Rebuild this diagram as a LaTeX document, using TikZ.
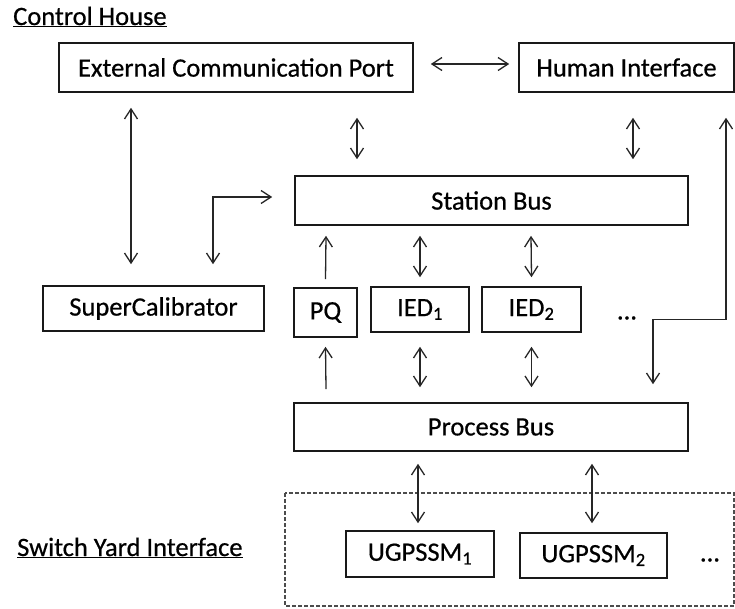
\documentclass[tikz,border=0pt]{standalone}
\usepackage{fontspec}
\setmainfont{Carlito}[FakeBold=0.6]
\usetikzlibrary{arrows.meta}
\begin{document}
\begin{tikzpicture}[x=1pt,y=-1pt,
  box/.style={draw=black!90, line width=1.6pt, inner sep=0pt, font=\fontsize{26.5}{30}\selectfont},
  lbl/.style={inner sep=0pt, font=\fontsize{26.5}{30}\selectfont},
  conn/.style={line width=1.3pt, draw=black!85},
  both/.style={conn, {Straight Barb[length=10pt,width=13pt,line width=1.3pt]}-{Straight Barb[length=10pt,width=13pt,line width=1.3pt]}},
  up/.style={conn, -{Straight Barb[length=10pt,width=13pt,line width=1.3pt]}}]
\useasboundingbox[fill=white] (0,0) rectangle (735,608);

% labels
\node[lbl, anchor=base west] (ctrl) at (13,25) {\underline{Control House}};
\node[lbl, anchor=base west] (syi) at (17,556) {\underline{Switch Yard Interface}};

% dashed switch yard region
\draw[line width=1.1pt, draw=black!70, dash pattern=on 4pt off 2pt] (285,493) rectangle (734,606);

% boxes
\node[box, minimum width=354pt, minimum height=49pt] (ext) at (236,67.5) {External Communication Port};
\node[box, minimum width=215pt, minimum height=49pt] (hmi) at (626.5,67.5) {Human Interface};
\node[box, minimum width=393pt, minimum height=49pt] (sb) at (491.5,200.5) {Station Bus};
\node[box, minimum width=221pt, minimum height=45pt] (sc) at (153.5,308.5) {SuperCalibrator};
\node[box, minimum width=63pt, minimum height=49pt] (pq) at (325.5,312.5) {PQ};
\node[box, minimum width=98pt, minimum height=45pt] (ied1) at (420,309.5) {IED\textsubscript{1}};
\node[box, minimum width=99pt, minimum height=45pt] (ied2) at (531.5,309.5) {IED\textsubscript{2}};
\node[lbl] (dots1) at (627,318) {...};
\node[box, minimum width=394pt, minimum height=48pt] (pb) at (491,427) {Process Bus};
\node[box, minimum width=148pt, minimum height=46pt] (u1) at (420,554) {UGPSSM\textsubscript{1}};
\node[box, minimum width=147pt, minimum height=45pt] (u2) at (593.5,555.5) {UGPSSM\textsubscript{2}};
\node[lbl] (dots2) at (710,560) {...};

% connectors
\draw[both] ([xshift=17pt,yshift=3.5pt]ext.east) -- ([xshift=-9pt,yshift=3.5pt]hmi.west);
\draw[both] ([xshift=-105pt,yshift=-15pt]ext.south) -- ([xshift=-22.5pt,yshift=21pt]sc.north);
\draw[both] ([xshift=59.5pt,yshift=21pt]sc.north) |- ([xshift=-22pt,yshift=3.5pt]sb.west);
\draw[both] ([xshift=121pt,yshift=-25pt]ext.south) -- ([xshift=-134.5pt,yshift=16pt]sb.north);
\draw[both] ([xshift=6.5pt,yshift=-25pt]hmi.south) -- ([xshift=141.5pt,yshift=16pt]sb.north);
\draw[both] ([xshift=99.5pt,yshift=-25pt]hmi.south) -- ++(0,202) -| ([xshift=162pt,yshift=18pt]pb.north);
\draw[up] ([yshift=8pt]pq.north) -- ([xshift=-165.5pt,yshift=-10pt]sb.south);
\draw[up] ([xshift=-165pt,yshift=13pt]pb.north) -- ([yshift=-9pt]pq.south);
\draw[both] ([yshift=9pt]ied1.north) -- ([xshift=-71.5pt,yshift=-10pt]sb.south);
\draw[both] ([yshift=-14pt]ied1.south) -- ([xshift=-71pt,yshift=15pt]pb.north);
\draw[both] ([yshift=9pt]ied2.north) -- ([xshift=39.5pt,yshift=-10pt]sb.south);
\draw[both] ([yshift=-14pt]ied2.south) -- ([xshift=40.5pt,yshift=15pt]pb.north);
\draw[both] ([xshift=-73pt,yshift=-12pt]pb.south) -- ([xshift=-2pt,yshift=7pt]u1.north);
\draw[both] ([xshift=101pt,yshift=-12pt]pb.south) -- ([xshift=-1.5pt,yshift=9pt]u2.north);
\end{tikzpicture}
\end{document}
